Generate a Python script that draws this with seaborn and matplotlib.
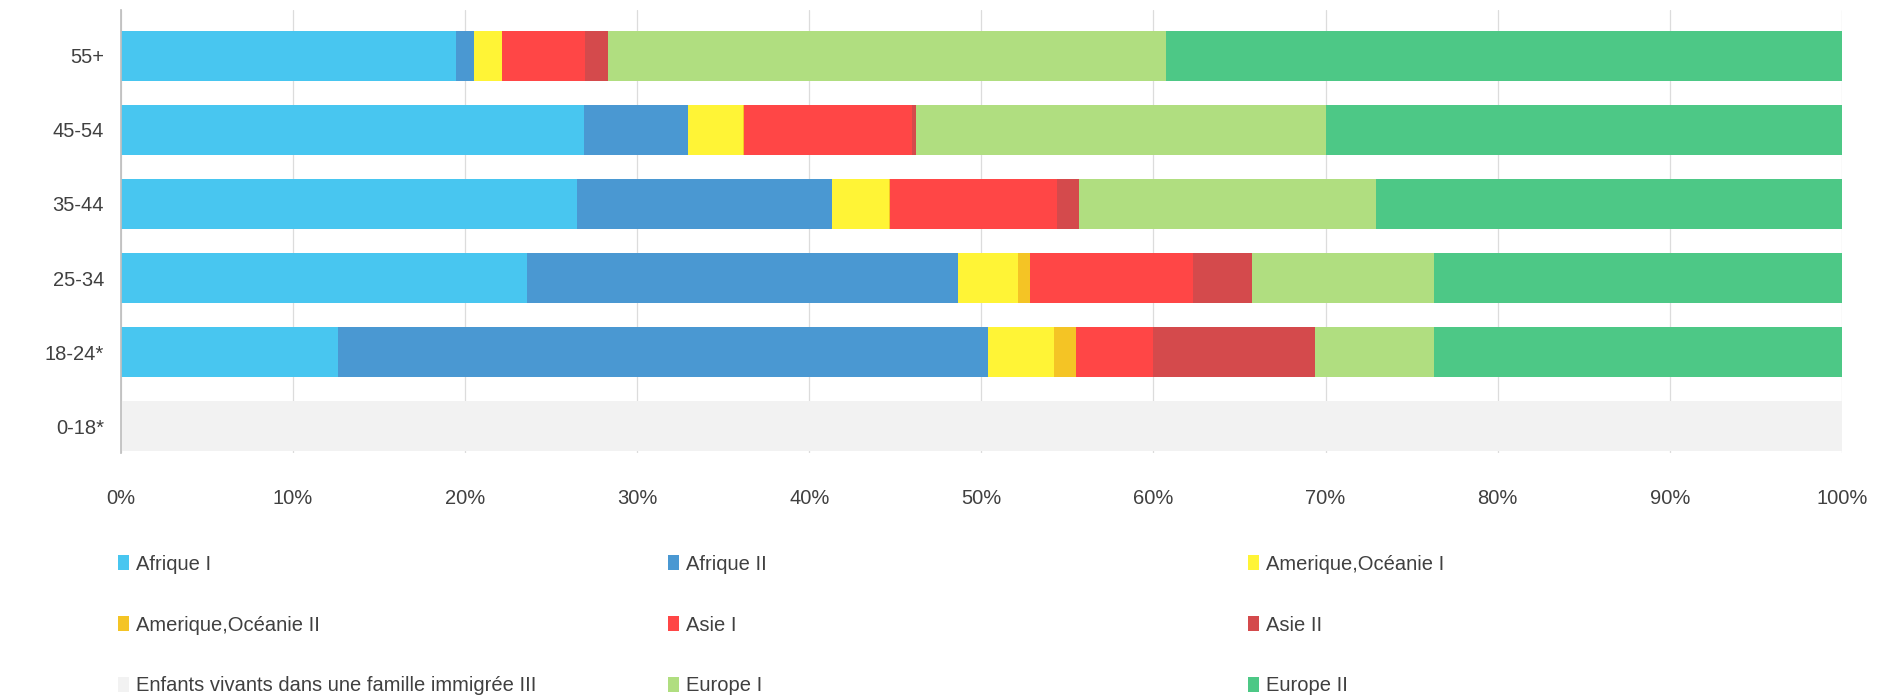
import numpy as np
import pandas as pd
import matplotlib
matplotlib.use("Agg")
import matplotlib.pyplot as plt
import seaborn as sns
from matplotlib.patches import Patch

categories = ["55+", "45-54", "35-44", "25-34", "18-24*", "0-18*"]
series_names = ["Afrique I", "Afrique II", "Amerique,Océanie I", "Amerique,Océanie II",
                "Asie I", "Asie II", "Enfants vivants dans une famille immigrée III",
                "Europe I", "Europe II"]
afrique_1 = [19.5, 26.9, 26.5, 23.6, 12.6, 0]
afrique_2 = [1.0, 6.05, 14.8, 25.05, 37.8, 0]
amerique_1 = [1.65, 3.2, 3.35, 3.45, 3.8, 0]
amerique_2 = [0.0, 0.05, 0.05, 0.7, 1.3, 0]
asie_1 = [4.8, 9.75, 9.7, 9.5, 4.5, 0]
asie_2 = [1.35, 0.25, 1.25, 3.4, 9.4, 0]
enfants_3 = [0, 0, 0, 0, 0, 100]
europe_1 = [32.4, 23.85, 17.3, 10.6, 6.9, 0]
europe_2 = [39.3, 29.95, 27.1, 23.7, 23.7, 0]
xtick_labels = ["0%", "10%", "20%", "30%", "40%", "50%", "60%", "70%", "80%", "90%", "100%"]

colors = ["#48C6F0", "#4A98D2", "#FFF436", "#F4C425", "#FF4646",
          "#D44A4C", "#F2F2F2", "#B0DE80", "#4DC886"]

sns.set_theme(style="white")
plt.rcParams['font.family'] = ['Liberation Sans Narrow', 'Liberation Sans', 'DejaVu Sans']

series = [afrique_1, afrique_2, amerique_1, amerique_2, asie_1, asie_2, enfants_3, europe_1, europe_2]
df = pd.DataFrame({name: vals for name, vals in zip(series_names, series)})
df["cat"] = categories
cum = df[series_names].cumsum(axis=1)

fig = plt.figure(figsize=(18.94, 6.99), dpi=100)
ax = fig.add_axes([0.0638, 0.352, 0.9087, 0.634])

for i in range(len(series_names) - 1, -1, -1):
    d = pd.DataFrame({"cat": categories, "val": cum[series_names[i]].values})
    sns.barplot(data=d, x="val", y="cat", orient="h", color=colors[i],
                width=0.67, saturation=1, ax=ax, order=categories,
                linewidth=0, edgecolor="none")

ax.set_xlim(0, 100)
ax.set_ylim(5.36, -0.62)
ax.set_xticks(np.arange(0, 101, 10))
ax.set_xticklabels(xtick_labels)
ax.set_xlabel("")
ax.set_ylabel("")
ax.grid(axis="x", color="#DCDCDC", linewidth=0.9)
ax.set_axisbelow(True)
for s in ["top", "right", "bottom"]:
    ax.spines[s].set_visible(False)
ax.spines["left"].set_color("#BFBFBF")
ax.tick_params(axis="x", length=0, pad=26, labelsize=14.5, labelcolor="#404040")
ax.tick_params(axis="y", length=0, pad=12, labelsize=14.5, labelcolor="#404040")

handles = [Patch(facecolor=c, edgecolor="none") for c in colors]
cols = [[0, 3, 6], [1, 4, 7], [2, 5, 8]]
xs = [0.0625, 0.3525, 0.659]
for xpos, idx in zip(xs, cols):
    leg = fig.legend([handles[k] for k in idx], [series_names[k] for k in idx],
                     loc="upper left", bbox_to_anchor=(xpos, 0.2065), frameon=False,
                     fontsize=14.5, handlelength=0.55, handleheight=0.75, handletextpad=0.35,
                     labelspacing=2.08, borderpad=0, borderaxespad=0)
    for t in leg.get_texts():
        t.set_color("#404040")

fig.savefig("out.png", dpi=100)
